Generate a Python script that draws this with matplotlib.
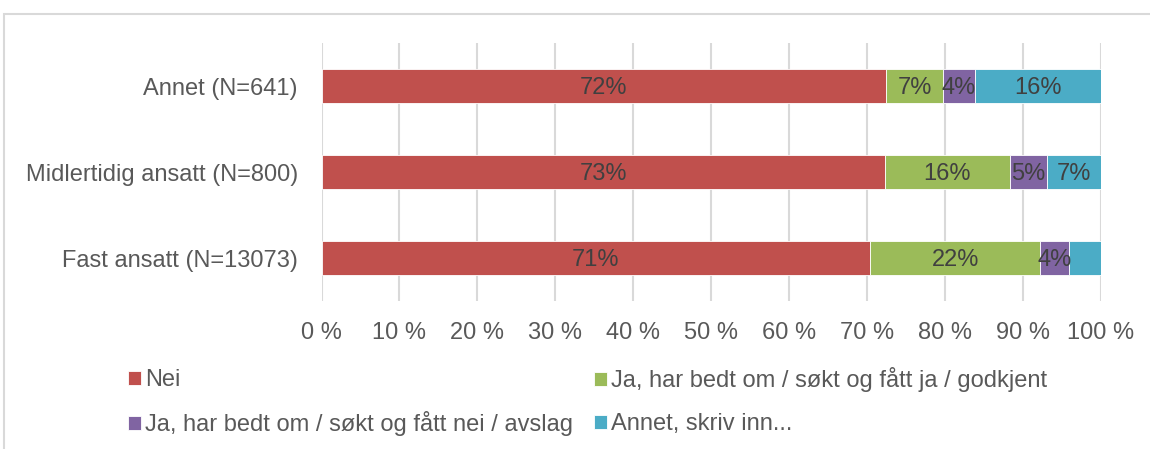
import numpy as np
import matplotlib
matplotlib.use("Agg")
import matplotlib.pyplot as plt
from matplotlib.patches import Rectangle

# raw shares (%) per group, bars are normalised to 100 %
groups = ["Fast ansatt (N=13073)", "Midlertidig ansatt (N=800)", "Annet (N=641)"]
answers = ["Nei",
           "Ja, har bedt om / søkt og fått ja / godkjent",
           "Ja, har bedt om / søkt og fått nei / avslag",
           "Annet, skriv inn..."]
nei       = [70.6, 72.6, 72.3]
ja_godk   = [21.9, 16.2, 7.4]
ja_avslag = [3.7, 4.7, 4.0]
annet     = [4.1, 7.0, 16.2]
hidden_labels = [(0, 3)]   # (group, answer) without data label

colors = ["#C0504D", "#9BBB59", "#8064A2", "#4BACC6"]
txt_col = "#595959"

plt.rcParams['font.family'] = ['Liberation Sans', 'DejaVu Sans']

raw = np.array([nei, ja_godk, ja_avslag, annet])
share = raw / raw.sum(axis=0) * 100

fig = plt.figure(figsize=(11.5, 4.49), dpi=100)
W, H = 1150, 449
ax = fig.add_axes([321.5 / W, 1 - 301 / H, (1101 - 321.5) / W, 258 / H])

y = np.arange(len(groups))
left = np.zeros(len(groups))
handles = []
for k in range(len(answers)):
    bars = ax.barh(y, share[k], left=left, height=0.4, color=colors[k],
                   edgecolor="white", linewidth=0.6, label=answers[k], zorder=3)
    handles.append(bars)
    for i in range(len(groups)):
        if (i, k) in hidden_labels:
            continue
        ax.text(left[i] + share[k][i] / 2, y[i], "%d%%" % round(raw[k][i]),
                ha="center", va="center_baseline", fontsize=17,
                color="#404040", zorder=4)
    left += share[k]

ax.set_xlim(0, 100)
ax.set_ylim(-0.5, 2.5)
ax.set_xticks(np.arange(0, 101, 10))
ax.set_xticklabels(["%d %%" % v for v in range(0, 101, 10)])
ax.set_yticks(y)
ax.set_yticklabels(groups)
ax.tick_params(axis="both", length=0, labelsize=17, colors=txt_col)
ax.tick_params(axis="x", pad=15)
ax.tick_params(axis="y", pad=17)
ax.xaxis.grid(True, color="#D9D9D9", linewidth=1.5, zorder=0)
for s in ax.spines.values():
    s.set_visible(False)

# legend entries placed like the original (marker left edge, centre y)
legend_pos = [(128, 380), (594, 380), (128, 424), (594, 424)]
for h, (px, py) in zip(handles, legend_pos):
    lg = fig.legend(handles=[h], loc="center left",
                    bbox_to_anchor=(px / W, 1 - py / H), frameon=False,
                    fontsize=17, handlelength=0.54, handleheight=0.54,
                    handletextpad=0.2, borderpad=0, borderaxespad=0)
    for t in lg.get_texts():
        t.set_color(txt_col)

# chart frame
fig.patches.append(Rectangle((4 / W, -0.1), 1.2, 1 - 14 / H + 0.1,
                             transform=fig.transFigure, fill=False,
                             edgecolor="#D9D9D9", linewidth=1.5))

fig.savefig("out.png", dpi=100, facecolor="white")
